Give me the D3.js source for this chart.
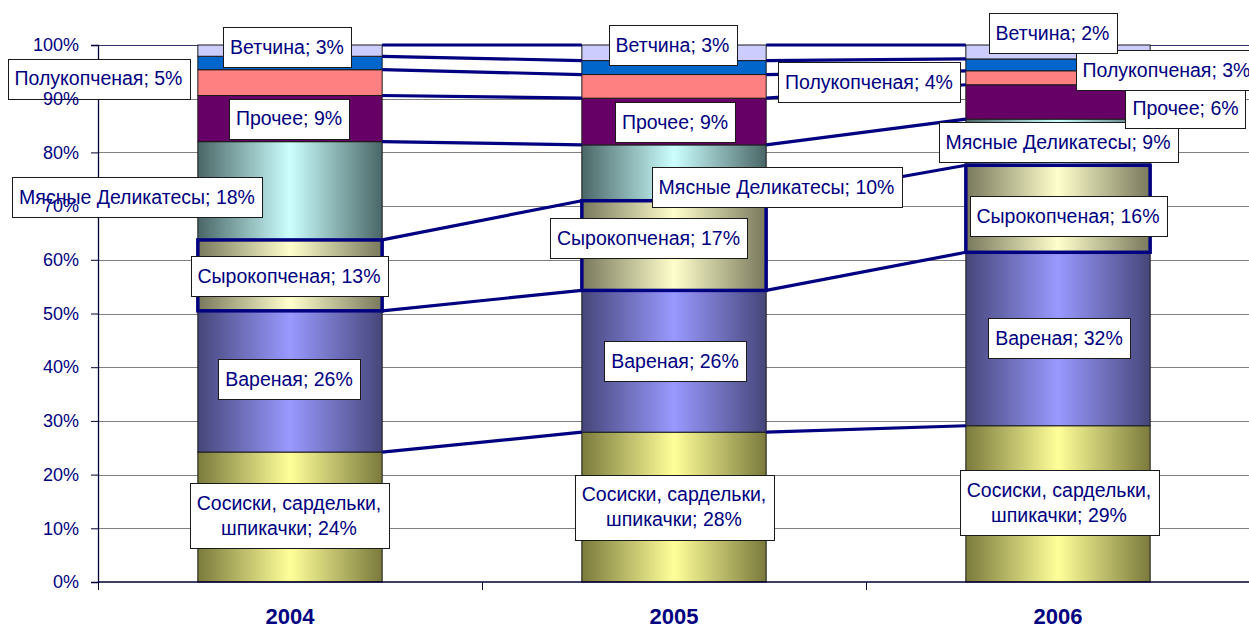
<!doctype html>
<html lang="ru">
<head>
<meta charset="UTF-8">
<title>Структура продаж колбасных изделий</title>
<style>
  body { margin: 0; background: #fff; }
  svg { display: block; font-family: Arial, "Liberation Sans", sans-serif; }
</style>
</head>
<body>
<div id="chart"></div>
<script src="https://d3js.org/d3.v7.min.js"></script>
<script>
  // categories and series (shares, %, bottom to top)
  const years = ['2004', '2005', '2006']
  const seriesNames = ['Сосиски, сардельки, шпикачки', 'Вареная', 'Сырокопченая',
    'Мясные Деликатесы', 'Прочее', 'Полукопченая', 'Ветчина', 'Другое']
  const sausages = [24.2, 27.9, 29.1]
  const boiled = [26.3, 26.4, 32.3]
  const rawSmoked = [13.2, 16.7, 16.2]
  const delicacies = [18.3, 10.4, 8.6]
  const misc = [8.6, 8.7, 6.4]
  const semiSmoked = [4.8, 4.4, 2.6]
  const ham = [2.5, 2.6, 2.2]
  const rest = [2.1, 2.9, 2.6]
  const yTicks = [0, 0.1, 0.2, 0.3, 0.4, 0.5, 0.6, 0.7, 0.8, 0.9, 1]

  const seriesValues = [sausages, boiled, rawSmoked, delicacies, misc, semiSmoked, ham, rest]

  // look
  const fills = [
    { grad: ['#7a7a3c', '#ffff99'] },
    { grad: ['#46467a', '#9999ff'] },
    { grad: ['#78785c', '#ffffcc'] },
    { grad: ['#4a6666', '#ccffff'] },
    { solid: '#660066' },
    { solid: '#ff8080' },
    { solid: '#0066cc' },
    { solid: '#ccccff' }
  ]
  const highlighted = 2
  const navy = '#000080'

  // label offsets from the middle of each segment (px); null = no label
  const labelNudge = [
    [[-1, -1.5], [0, 0], [1, -1]],
    [[-1, -2], [1, 0], [1, -1]],
    [[-1, 0.6], [-25.5, -7.6], [10, 7]],
    [[-153, 6], [102.5, 14], [0, 0]],
    [[-1, 0], [1, 0.5], [127.5, 6]],
    [[-191.5, -4], [195, -4.4], [108.5, -7.3]],
    [[-3, -16], [-1.5, -22.6], [-5.5, -32]],
    null
  ]

  const width = 1249
  const height = 628
  const plotLeft = 98, plotRight = 1250, plotTop = 45, plotBottom = 582

  const table = years.map((yr, i) => {
    const row = { year: yr }
    seriesNames.forEach((n, s) => { row[n] = seriesValues[s][i] })
    return row
  })

  const stacked = d3.stack()
    .keys(seriesNames)
    .offset(d3.stackOffsetExpand)(table)

  const x = d3.scaleBand().domain(years).range([plotLeft, plotRight])
    .paddingInner(0.52).paddingOuter(0.26)
  const y = d3.scaleLinear().domain([0, 1]).range([plotBottom, plotTop])

  const svg = d3.select('#chart').append('svg')
    .attr('width', width)
    .attr('height', height)

  const defs = svg.append('defs')
  fills.forEach((f, i) => {
    if (!f.grad) return
    const g = defs.append('linearGradient')
      .attr('id', 'grad' + i)
      .attr('x1', '0%').attr('x2', '100%').attr('y1', '0%').attr('y2', '0%')
    g.append('stop').attr('offset', '0%').attr('stop-color', f.grad[0])
    g.append('stop').attr('offset', '50%').attr('stop-color', f.grad[1])
    g.append('stop').attr('offset', '100%').attr('stop-color', f.grad[0])
  })
  const fillOf = i => fills[i].grad ? `url(#grad${i})` : fills[i].solid

  // gridlines
  svg.append('g')
    .selectAll('line')
    .data(yTicks.slice(1))
    .join('line')
    .attr('x1', plotLeft).attr('x2', plotRight)
    .attr('y1', d => Math.round(y(d)) + 0.5)
    .attr('y2', d => Math.round(y(d)) + 0.5)
    .attr('stroke', d => d === 1 ? '#333366' : '#808080')
    .attr('stroke-width', 1)

  // bars
  const order = d3.range(seriesNames.length).filter(i => i !== highlighted).concat([highlighted])
  const bars = svg.append('g')
  order.forEach(i => {
    bars.append('g')
      .selectAll('rect')
      .data(stacked[i])
      .join('rect')
      .attr('x', d => x(d.data.year))
      .attr('width', x.bandwidth())
      .attr('y', d => y(d[1]))
      .attr('height', d => y(d[0]) - y(d[1]))
      .attr('fill', fillOf(i))
      .attr('stroke', i === highlighted ? navy : '#1a1a1a')
      .attr('stroke-width', i === highlighted ? 3.5 : 1)
  })

  // series lines between bars
  const lines = svg.append('g')
  stacked.forEach(s => {
    for (let k = 0; k < s.length - 1; k++) {
      lines.append('line')
        .attr('x1', x(years[k]) + x.bandwidth())
        .attr('y1', y(s[k][1]))
        .attr('x2', x(years[k + 1]))
        .attr('y2', y(s[k + 1][1]))
        .attr('stroke', navy)
        .attr('stroke-width', 3.2)
    }
  })

  // y axis (tick texts are moved above the data labels later)
  const yAxis = d3.axisLeft(y).tickValues(yTicks).tickFormat(d3.format('.0%'))
    .tickSize(7).tickPadding(12)
  const gy = svg.append('g')
    .attr('transform', `translate(${plotLeft},0)`)
    .call(yAxis)
  gy.select('.domain').attr('stroke', '#000033').attr('stroke-width', 1.3)
  gy.selectAll('.tick line').attr('stroke', '#000033')

  // x axis: ticks at category boundaries
  const step = x.step()
  const bounds = years.map(c => x(c) - step * x.paddingOuter())
  const gx = svg.append('g')
  gx.append('line')
    .attr('x1', plotLeft).attr('x2', plotRight)
    .attr('y1', plotBottom).attr('y2', plotBottom)
    .attr('stroke', '#000033').attr('stroke-width', 1.3)
  gx.selectAll('line.tick')
    .data(bounds)
    .join('line')
    .attr('class', 'tick')
    .attr('x1', d => Math.round(d) + 0.5).attr('x2', d => Math.round(d) + 0.5)
    .attr('y1', plotBottom).attr('y2', plotBottom + 8)
    .attr('stroke', '#000033')
  gx.selectAll('text')
    .data(years)
    .join('text')
    .attr('x', d => x(d) + x.bandwidth() / 2)
    .attr('y', 624)
    .attr('text-anchor', 'middle')
    .attr('fill', navy)
    .style('font-size', '22px')
    .style('font-weight', 'bold')
    .text(d => d)

  // data labels
  const labels = svg.append('g')
  const fontSize = 19.5
  const lineGap = 25
  stacked.forEach((s, i) => {
    if (!labelNudge[i]) return
    s.forEach((d, k) => {
      const value = seriesValues[i][k]
      const full = `${seriesNames[i]}; ${Math.round(value)}%`
      const cx = x(d.data.year) + x.bandwidth() / 2 + labelNudge[i][k][0]
      const cy = (y(d[0]) + y(d[1])) / 2 + labelNudge[i][k][1]
      const g = labels.append('g')
      const box = g.append('rect')
      const t = g.append('text')
        .attr('fill', navy)
        .attr('text-anchor', 'middle')
        .style('font-size', fontSize + 'px')

      // wrap long labels
      t.text(full)
      let rows = [full]
      if (t.node().getComputedTextLength() > 260) {
        const words = full.split(' ')
        rows = []
        let cur = ''
        words.forEach(w => {
          const test = cur ? cur + ' ' + w : w
          t.text(test)
          if (t.node().getComputedTextLength() > 200 && cur) {
            rows.push(cur)
            cur = w
          } else {
            cur = test
          }
        })
        rows.push(cur)
      }
      t.text(null)
      const y0 = cy - (rows.length - 1) * lineGap / 2
      rows.forEach((r, j) => {
        t.append('tspan')
          .attr('x', cx)
          .attr('y', y0 + j * lineGap)
          .attr('dy', '0.35em')
          .text(r)
      })
      const w = d3.max(t.selectAll('tspan').nodes(), n => n.getComputedTextLength())
      const h = 38 + (rows.length - 1) * lineGap + 2
      box.attr('x', Math.round(cx - w / 2 - 7) + 0.5)
        .attr('y', Math.round(cy - h / 2) + 0.5)
        .attr('width', Math.round(w + 14))
        .attr('height', Math.round(h))
        .attr('fill', '#fff')
        .attr('stroke', '#1a1a1a')
        .attr('stroke-width', 1)
    })
  })

  // percent tick texts drawn above the label boxes
  const tickTexts = svg.append('g').attr('transform', `translate(${plotLeft},0)`)
  gy.selectAll('.tick').each(function () {
    const tick = d3.select(this)
    const tx = tick.select('text').remove()
    tickTexts.append(() => tx.node())
      .attr('transform', tick.attr('transform'))
      .attr('text-anchor', 'end')
      .attr('fill', navy)
      .style('font-size', '18px')
      .style('font-family', 'Arial, "Liberation Sans", sans-serif')
  })
</script>
</body>
</html>
